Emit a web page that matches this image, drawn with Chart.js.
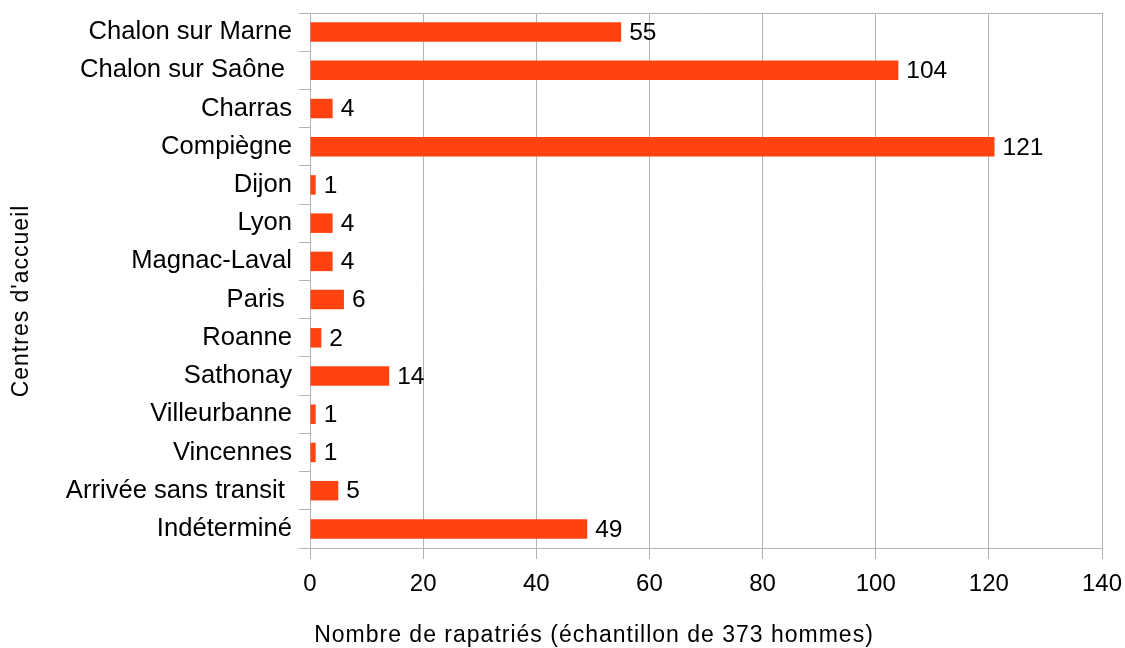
<!DOCTYPE html>
<html>
<head>
<meta charset="utf-8">
<script src="https://cdn.jsdelivr.net/npm/chart.js@4"></script>
<style>
  html, body { margin: 0; padding: 0; background: #fff; }
  #wrap { width: 1125px; height: 648px; }
</style>
</head>
<body>
<div id="wrap"><canvas id="c" width="1125" height="648"></canvas></div>
<script>
const categories = [
  "Chalon sur Marne", "Chalon sur Saône ", "Charras", "Compiègne", "Dijon",
  "Lyon", "Magnac-Laval", "Paris ", "Roanne", "Sathonay", "Villeurbanne",
  "Vincennes", "Arrivée sans transit ", "Indéterminé"
];
const values = [55, 104, 4, 121, 1, 4, 4, 6, 2, 14, 1, 1, 5, 49];
const xTicks = [0, 20, 40, 60, 80, 100, 120, 140];
const xTitle = "Nombre de rapatriés (échantillon de 373 hommes)";
const yTitle = "Centres d'accueil";

const FONT = "'Liberation Sans', Arial, sans-serif";
const GRID = "#b3b3b3";
const BAR = "#ff420e";

function noPad(scale) {
  scale.paddingTop = 0; scale.paddingBottom = 0;
  scale.paddingLeft = 0; scale.paddingRight = 0;
}

const extras = {
  id: "extras",
  afterDatasetsDraw(chart) {
    const ctx = chart.ctx;
    const area = chart.chartArea;
    ctx.save();
    ctx.strokeStyle = GRID;
    ctx.lineWidth = 1;
    ctx.beginPath();
    ctx.moveTo(area.left - 11, Math.round(area.top) + 0.5);
    ctx.lineTo(area.right, Math.round(area.top) + 0.5);
    ctx.stroke();
    ctx.fillStyle = "#000";
    ctx.font = "24.5px " + FONT;
    ctx.textAlign = "left";
    ctx.textBaseline = "middle";
    const meta = chart.getDatasetMeta(0);
    meta.data.forEach((bar, i) => {
      ctx.fillText(String(values[i]), bar.x + 8, bar.y + 1);
    });
    ctx.font = "23px " + FONT;
    if ("letterSpacing" in ctx) ctx.letterSpacing = "1px";
    ctx.textAlign = "center";
    ctx.textBaseline = "alphabetic";
    ctx.fillText(xTitle, 594, 641.5);
    ctx.translate(28, 301);
    ctx.rotate(-Math.PI / 2);
    ctx.fillText(yTitle, 0, 0);
    ctx.restore();
  }
};

new Chart(document.getElementById("c"), {
  type: "bar",
  data: {
    labels: categories,
    datasets: [{
      data: values,
      backgroundColor: BAR,
      borderWidth: 0,
      barPercentage: 0.51,
      categoryPercentage: 1.0
    }]
  },
  options: {
    indexAxis: "y",
    responsive: false,
    animation: false,
    devicePixelRatio: 1,
    layout: { padding: { top: 13, right: 23, left: 0, bottom: 0 } },
    plugins: {
      legend: { display: false },
      tooltip: { enabled: false },
      title: { display: false }
    },
    scales: {
      x: {
        type: "linear",
        min: xTicks[0],
        max: xTicks[xTicks.length - 1],
        afterBuildTicks(scale) { scale.ticks = xTicks.map(v => ({ value: v })); },
        afterFit(scale) { scale.height = 100; noPad(scale); },
        ticks: { color: "#000", font: { family: FONT, size: 24 }, padding: 11, maxRotation: 0 },
        grid: { color: GRID, tickLength: 11, tickColor: GRID, lineWidth: 1 },
        border: { color: GRID }
      },
      y: {
        afterFit(scale) { scale.width = 310; noPad(scale); },
        ticks: { color: "#000", font: { family: FONT, size: 25.6 }, padding: 7, autoSkip: false },
        grid: { offset: true, drawOnChartArea: false, tickLength: 11, color: GRID, tickColor: GRID },
        border: { color: GRID }
      }
    }
  },
  plugins: [extras]
});
</script>
</body>
</html>
